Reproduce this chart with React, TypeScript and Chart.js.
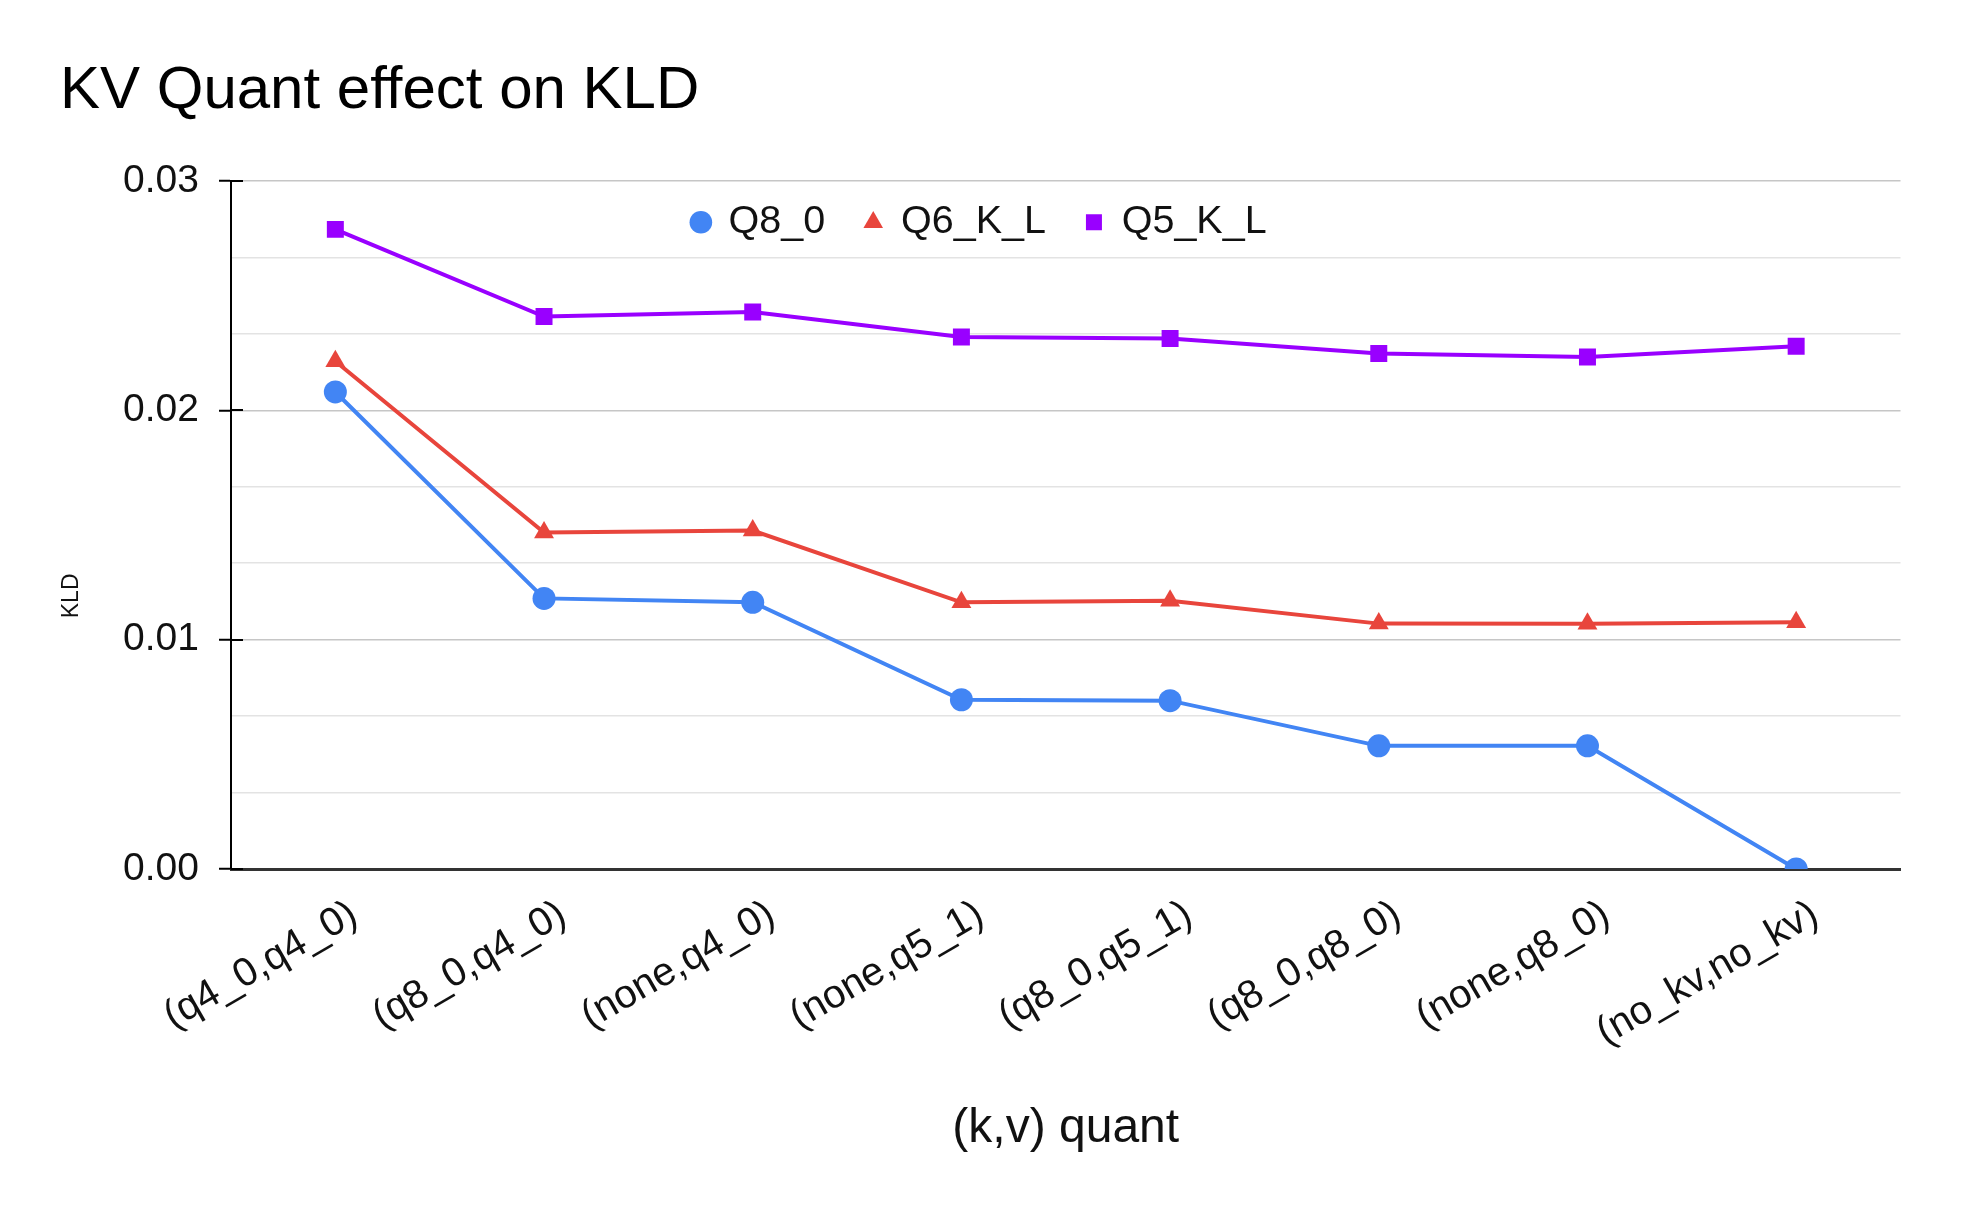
import React, { useEffect, useRef } from 'react';
import { Chart, registerables } from 'chart.js';

Chart.register(...registerables);

const FONT = "'Liberation Sans', Arial, sans-serif";

const chartTitle = 'KV Quant effect on KLD';
const xTitle = '(k,v) quant';
const yTitle = 'KLD';

const categories = [
  '(q4_0,q4_0)',
  '(q8_0,q4_0)',
  '(none,q4_0)',
  '(none,q5_1)',
  '(q8_0,q5_1)',
  '(q8_0,q8_0)',
  '(none,q8_0)',
  '(no_kv,no_kv)',
];

const seriesNames = ['Q8_0', 'Q6_K_L', 'Q5_K_L'];
const q8_0Values = [0.0208, 0.0118, 0.01163, 0.00738, 0.00734, 0.00537, 0.00537, 0.0];
const q6_k_lValues = [0.02214, 0.01467, 0.01476, 0.01163, 0.0117, 0.0107, 0.01069, 0.01076];
const q5_k_lValues = [0.02789, 0.02409, 0.02429, 0.0232, 0.02313, 0.02248, 0.02233, 0.02279];

const yTickLabels = ['0.00', '0.01', '0.02', '0.03'];
const yMajorValues = [0, 0.01, 0.02, 0.03];

const legendRowPlugin = {
  id: 'legendRow',
  beforeLayout(chart: any) {
    const lg = chart.legend;
    if (lg && !lg.__row) {
      lg.isHorizontal = () => true;
      lg.__row = true;
    }
  },
  afterLayout(chart: any) {
    const lg = chart.legend;
    if (!lg) return;
    const dx = 145;
    const dy = -18.5;
    lg.left += dx;
    lg.right += dx;
    lg.top += dy;
    lg.bottom += dy;
  },
};

const axisExtrasPlugin = {
  id: 'axisExtras',
  afterDraw(chart: any) {
    const { ctx, chartArea } = chart;
    const ys = chart.scales.y;
    ctx.save();
    // inner halves of the major tick marks
    ctx.strokeStyle = '#000';
    ctx.lineWidth = 2;
    yMajorValues.forEach((v) => {
      const py = Math.round(ys.getPixelForValue(v));
      ctx.beginPath();
      ctx.moveTo(chartArea.left, py);
      ctx.lineTo(chartArea.left + 12, py);
      ctx.stroke();
    });
    // y axis title
    ctx.translate(ys.left + 11.5, chartArea.top + chartArea.height * 0.603);
    ctx.rotate(-Math.PI / 2);
    ctx.font = `23px ${FONT}`;
    ctx.fillStyle = '#111';
    ctx.textAlign = 'center';
    ctx.textBaseline = 'middle';
    ctx.fillText(yTitle, 0, 0);
    ctx.restore();
  },
};

export default function App() {
  const canvasRef = useRef<HTMLCanvasElement | null>(null);

  useEffect(() => {
    if (!canvasRef.current) return;
    const mk = (label: string, data: number[], color: string, style: string, r: number) => ({
      label,
      data,
      borderColor: color,
      backgroundColor: color,
      borderWidth: 4,
      pointStyle: style,
      pointRadius: r,
      pointHoverRadius: r,
      pointBorderWidth: 0,
      pointBackgroundColor: color,
      tension: 0,
      clip: 0,
    });
    const chart = new Chart(canvasRef.current, {
      type: 'line',
      data: {
        labels: categories,
        datasets: [
          mk(seriesNames[0], q8_0Values, '#4285F4', 'circle', 11.5),
          mk(seriesNames[1], q6_k_lValues, '#E8453C', 'triangle', 11.5),
          mk(seriesNames[2], q5_k_lValues, '#9900FF', 'rect', 12),
        ] as any,
      },
      options: {
        animation: false,
        responsive: true,
        maintainAspectRatio: false,
        layout: { padding: { left: 60, right: 61.5, top: 0, bottom: 0 } },
        plugins: {
          title: {
            display: true,
            text: chartTitle,
            align: 'start',
            color: '#000',
            font: { family: FONT, size: 60, weight: 'normal' },
            padding: { top: 55.5, bottom: 53.5 },
          },
          legend: {
            position: 'chartArea' as any,
            align: 'center',
            labels: {
              usePointStyle: true,
              boxWidth: 16,
              boxHeight: 16,
              padding: 40,
              color: '#111',
              font: { family: FONT, size: 39.5 },
            },
          },
          tooltip: { enabled: false },
        },
        scales: {
          x: {
            offset: true,
            afterFit: (s: any) => {
              s.height = 343;
              s.paddingLeft = 0;
              s.paddingRight = 0;
            },
            grid: { display: false },
            border: { display: true, color: '#333', width: 3 },
            ticks: {
              minRotation: 30,
              maxRotation: 30,
              autoSkip: false,
              padding: 14,
              labelOffset: 19,
              color: '#111',
              font: { family: FONT, size: 40 },
            },
            title: {
              display: true,
              text: xTitle,
              color: '#111',
              font: { family: FONT, size: 48 },
              padding: { top: 0, bottom: 54 },
            },
          },
          y: {
            min: 0,
            max: 0.03,
            afterFit: (s: any) => {
              s.width = 171;
            },
            ticks: {
              stepSize: 0.01 / 3,
              autoSkip: false,
              padding: 20,
              color: '#111',
              font: { family: FONT, size: 39 },
              callback: (_v: any, i: number) => (i % 3 === 0 ? yTickLabels[i / 3] : ''),
            },
            grid: {
              color: (c: any) => (c.index === 0 ? 'rgba(0,0,0,0)' : c.index % 3 === 0 ? '#c6c6c6' : '#e3e3e3'),
              lineWidth: 1.5,
              tickLength: 12,
              tickWidth: 2,
              tickColor: (c: any) => (c.index % 3 === 0 ? '#000' : 'rgba(0,0,0,0)'),
            },
            border: { display: true, color: '#000', width: 2 },
          },
        },
      },
      plugins: [legendRowPlugin, axisExtrasPlugin],
    });
    return () => chart.destroy();
  }, []);

  return (
    <div style={{ position: 'absolute', left: 0, top: 0, width: 1962, height: 1212, background: '#fff' }}>
      <canvas ref={canvasRef} />
    </div>
  );
}
